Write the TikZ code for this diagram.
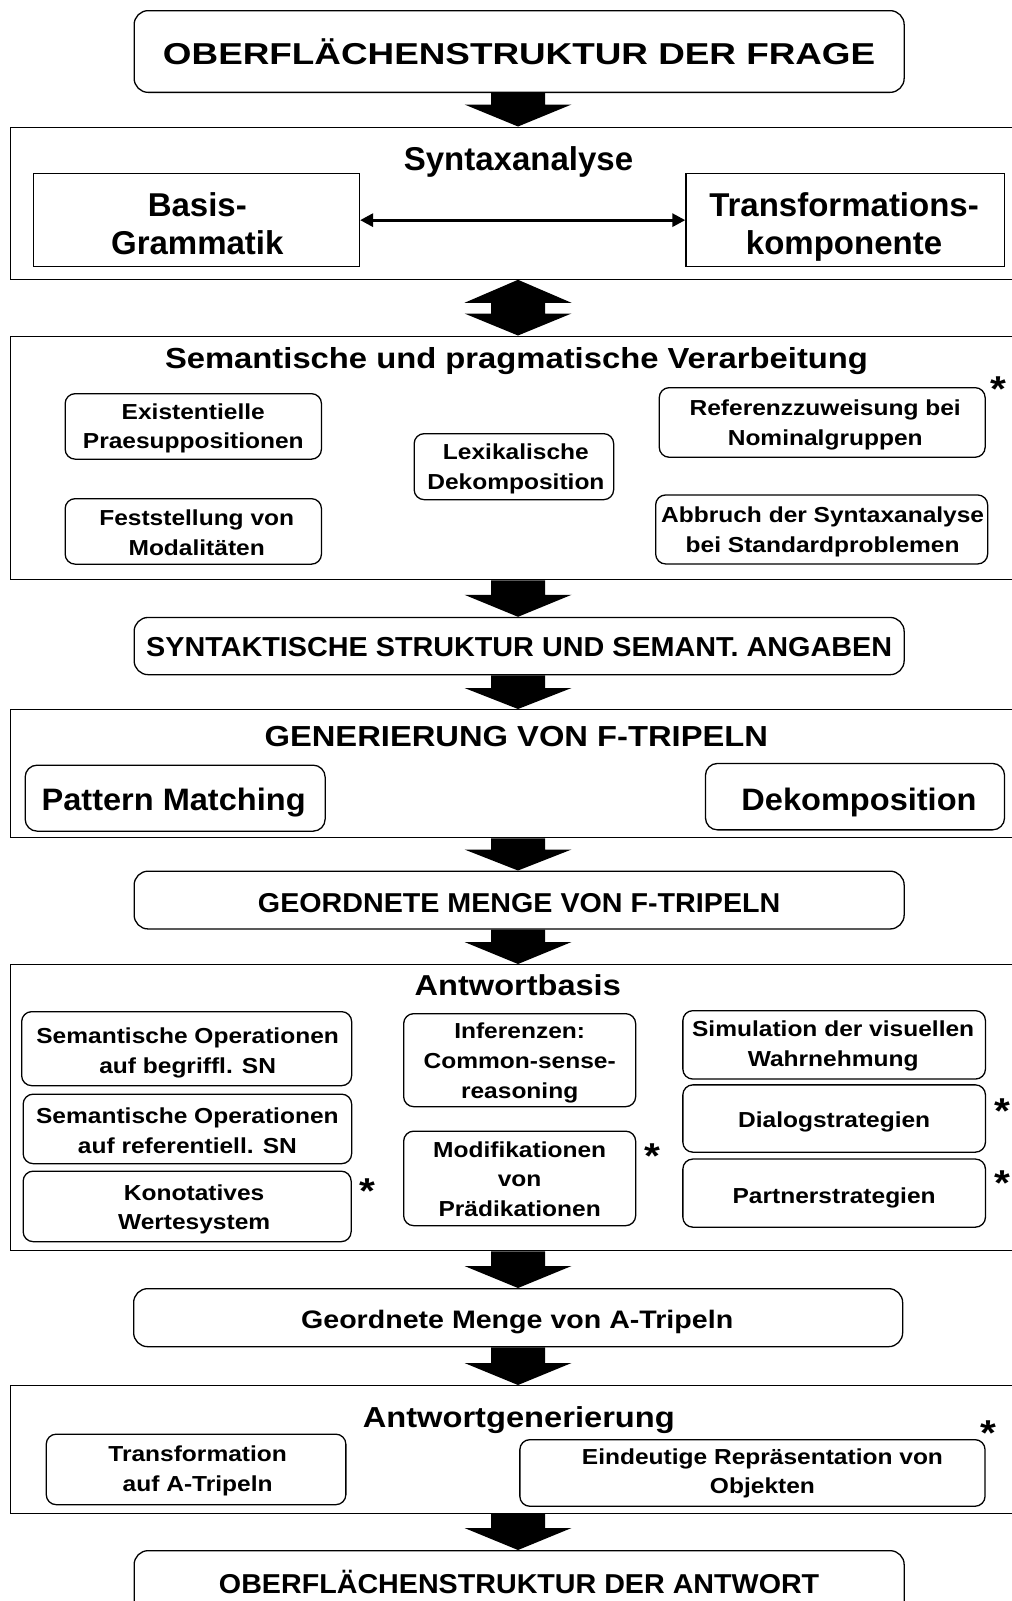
\documentclass[tikz,border=0pt]{standalone}
\usepackage{fontspec}
\setmainfont{Liberation Sans}
\newfontfamily\fA{Liberation Sans}
\newfontfamily\fB{Liberation Sans}[FakeStretch=1.05]
\newfontfamily\fC{Liberation Sans}[FakeStretch=1.13]
\newfontfamily\fD{Liberation Sans}[FakeStretch=1.22]
\usetikzlibrary{arrows.meta,calc}

% centred block of lines: size, line distance, lines separated by \\
\newcommand\txtlines[3]{{\fontsize{#1}{#2}\selectfont
  \setbox\strutbox\hbox{\vrule height\dimexpr.5\baselineskip+.358em\relax
    depth\dimexpr.5\baselineskip-.358em\relax width0pt}%
  \begin{tabular}{@{}c@{}}#3\end{tabular}}}
\newcommand\sm[1]{\txtlines{21.7}{29.6}{#1}}
% move a node's text right by #1 and down by #2 inside its frame
\newcommand\nudge[3]{\raisebox{-#2}[\height][\depth]{\kern#1\kern#1#3}}
% broad block arrow from the first point down to the second, head length #3
\newcommand\fatarrow[3]{%
  \fill let \p1=(#1), \p2=(#2) in
    (\x1-27pt,\y1) -- (\x1+27pt,\y1) -- (\x1+27pt,\y2+#3) -- (\x1+53.5pt,\y2+#3)
    -- (\x1,\y2) -- (\x1-53.5pt,\y2+#3) -- (\x1-27pt,\y2+#3) -- cycle;}

\tikzset{
  outerbox/.style={draw, line width=1.3pt, inner sep=0pt, anchor=north west},
  plainbox/.style={draw, line width=1.3pt, inner sep=0pt, anchor=north west, font=\fA\bfseries},
  mainbox/.style={draw, line width=1.3pt, rounded corners=14pt, inner sep=0pt, anchor=north west},
  smallbox/.style={draw, line width=1.3pt, rounded corners=10pt, inner sep=0pt, anchor=north west, font=\fC\bfseries},
  heading/.style={inner sep=0pt, anchor=center},
  star/.style={inner sep=0pt, anchor=base, font=\fC\bfseries\fontsize{36}{40}\selectfont},
}

\begin{document}
\begin{tikzpicture}[x=1pt,y=-1pt]
\path[use as bounding box] (0,0) rectangle (1012,1601);
\clip (0,0) rectangle (1012,1601);
\fill[white] (0,0) rectangle (1012,1601);
\coordinate (axis) at (518,0);

% section frames
\node[outerbox, minimum width=1020pt, minimum height=152pt]   (O1) at (9.7,126.5) {};
\node[outerbox, minimum width=1020pt, minimum height=243.5pt] (O2) at (9.7,335.5) {};
\node[outerbox, minimum width=1020pt, minimum height=128pt]   (O3) at (9.7,709) {};
\node[outerbox, minimum width=1020pt, minimum height=286pt]   (O4) at (9.7,964) {};
\node[outerbox, minimum width=1020pt, minimum height=127.7pt] (O5) at (9.7,1385) {};

% main chain
\node[mainbox, font=\fD\bfseries, minimum width=770pt, minimum height=81.7pt] (T0) at (133.5,10)
  {\nudge{0pt}{2pt}{\txtlines{30.2}{39}{OBERFLÄCHENSTRUKTUR DER FRAGE}}};
\node[mainbox, font=\fB\bfseries, minimum width=770pt, minimum height=57.2pt] (S1) at (133.5,616.8)
  {\nudge{0pt}{1pt}{\txtlines{27.4}{36}{SYNTAKTISCHE STRUKTUR UND SEMANT. ANGABEN}}};
\node[mainbox, font=\fB\bfseries, minimum width=770pt, minimum height=57.8pt] (F1) at (133.5,870.5)
  {\nudge{0pt}{3pt}{\txtlines{27.3}{36}{GEORDNETE MENGE VON F-TRIPELN}}};
\node[mainbox, font=\fC\bfseries, minimum width=769pt, minimum height=58pt] (A0) at (133,1288)
  {\nudge{-1pt}{2pt}{\txtlines{25.3}{33}{Geordnete Menge von A-Tripeln}}};
\node[mainbox, font=\fB\bfseries, minimum width=770pt, minimum height=66pt] (T9) at (133.5,1550)
  {\txtlines{27.3}{36}{OBERFLÄCHENSTRUKTUR DER ANTWORT}};

% Syntaxanalyse
\node[heading, font=\fA\bfseries] (h1) at (518.5,158.5) {\txtlines{33}{43}{Syntaxanalyse}};
\node[plainbox, minimum width=326.3pt, minimum height=93pt] (B1) at (32.5,173)
  {\nudge{1pt}{3.3pt}{\txtlines{33}{37.7}{Basis-\\Grammatik}}};
\node[plainbox, minimum width=318.2pt, minimum height=93pt] (B2) at (685.3,173)
  {\nudge{-1pt}{3.3pt}{\txtlines{33}{37.7}{Transformations-\\komponente}}};
\draw[line width=3pt, {Triangle[length=13pt,width=13pt]}-{Triangle[length=13pt,width=13pt]}]
  (B1.east) -- (B2.west);

% Semantische und pragmatische Verarbeitung
\node[heading, font=\fC\bfseries] (h2) at (516.5,358) {\txtlines{29}{38}{Semantische und pragmatische Verarbeitung}};
\node[smallbox, minimum width=256.3pt, minimum height=65.5pt] (E1) at (64.5,393)
  {\sm{Existentielle\\Praesuppositionen}};
\node[smallbox, minimum width=256.3pt, minimum height=65.5pt] (E2) at (64.5,498)
  {\nudge{3.4pt}{1.3pt}{\sm{Feststellung von\\Modalitäten}}};
\node[smallbox, minimum width=199.5pt, minimum height=66pt] (E3) at (413.5,433)
  {\nudge{2pt}{0pt}{\sm{Lexikalische\\Dekomposition}}};
\node[smallbox, minimum width=325.9pt, minimum height=69.6pt] (E4) at (658.6,387)
  {\nudge{3pt}{0pt}{\sm{Referenzzuweisung bei\\Nominalgruppen}}};
\node[smallbox, minimum width=332pt, minimum height=69pt] (E5) at (655,494.3)
  {\nudge{1pt}{0pt}{\sm{Abbruch der Syntaxanalyse\\bei Standardproblemen}}};
\node[star] (s1) at (998.3,401.5) {*};

% Generierung von F-Tripeln
\node[heading, font=\fC\bfseries] (h3) at (516.3,736.2) {\txtlines{28.95}{38}{GENERIERUNG VON F-TRIPELN}};
\node[smallbox, rounded corners=12pt, font=\fB\bfseries, minimum width=300pt, minimum height=66pt] (P1) at (24.5,764.5)
  {\nudge{-1.5pt}{1pt}{\txtlines{31}{40}{Pattern Matching}}};
\node[smallbox, rounded corners=12pt, font=\fB\bfseries, minimum width=299.1pt, minimum height=66.4pt] (P2) at (704.8,762.8)
  {\nudge{4pt}{2.6pt}{\txtlines{31}{40}{Dekomposition}}};

% Antwortbasis
\node[heading, font=\fC\bfseries] (h4) at (517.8,985.5) {\txtlines{28.8}{38}{Antwortbasis}};
\node[smallbox, minimum width=330pt, minimum height=74pt] (A1) at (21,1011)
  {\nudge{1pt}{2pt}{\sm{Semantische Operationen\\auf begriffl. SN}}};
\node[smallbox, minimum width=328.5pt, minimum height=69.5pt] (A2) at (22.5,1093.5)
  {\nudge{0pt}{1.6pt}{\sm{Semantische Operationen\\auf referentiell. SN}}};
\node[smallbox, minimum width=328pt, minimum height=70.5pt] (A3) at (22.5,1170.5)
  {\nudge{7pt}{0.7pt}{\sm{Konotatives\\Wertesystem}}};
\node[smallbox, minimum width=232pt, minimum height=93pt] (A4) at (403,1013)
  {\nudge{0pt}{0.5pt}{\sm{Inferenzen:\\Common-sense-\\reasoning}}};
\node[smallbox, minimum width=232pt, minimum height=94.5pt] (A5) at (403,1130.5)
  {\nudge{0pt}{0.7pt}{\sm{Modifikationen\\von\\Prädikationen}}};
\node[smallbox, minimum width=302.6pt, minimum height=68.4pt] (A6) at (682.2,1010)
  {\nudge{-1pt}{-1pt}{\sm{Simulation der visuellen\\Wahrnehmung}}};
\node[smallbox, minimum width=302.6pt, minimum height=67.3pt] (A7) at (682.2,1084.2)
  {\nudge{0pt}{1.4pt}{\sm{Dialogstrategien}}};
\node[smallbox, minimum width=302.6pt, minimum height=68.1pt] (A8) at (682.2,1158.4)
  {\nudge{0pt}{2.3pt}{\sm{Partnerstrategien}}};
\node[star] (s2) at (367,1203) {*};
\node[star] (s3) at (652,1168) {*};
\node[star] (s4) at (1002,1123) {*};
\node[star] (s5) at (1002,1195.5) {*};

% Antwortgenerierung
\node[heading, font=\fC\bfseries] (h5) at (518.8,1416.7) {\txtlines{28.9}{38}{Antwortgenerierung}};
\node[smallbox, minimum width=299.6pt, minimum height=70.5pt] (G1) at (45.6,1433.5)
  {\nudge{1.6pt}{-0.7pt}{\sm{Transformation\\auf A-Tripeln}}};
\node[smallbox, minimum width=465.2pt, minimum height=66.6pt] (G2) at (519.2,1439)
  {\nudge{10pt}{-1.8pt}{\sm{Eindeutige Repräsentation von\\Objekten}}};
\node[star] (s6) at (988,1445) {*};

% block arrows between the stages
\fatarrow{T0.south -| axis}{O1.north -| axis}{22pt}
\fill let \p1=(O1.south -| axis), \p2=(O2.north -| axis) in
  (\x1,\y1) -- (\x1+53.5pt,\y1-23pt) -- (\x1+27pt,\y1-23pt) -- (\x1+27pt,\y2+22pt)
  -- (\x1+53.5pt,\y2+22pt) -- (\x1,\y2) -- (\x1-53.5pt,\y2+22pt) -- (\x1-27pt,\y2+22pt)
  -- (\x1-27pt,\y1-23pt) -- (\x1-53.5pt,\y1-23pt) -- cycle;
\fatarrow{O2.south -| axis}{S1.north -| axis}{22pt}
\fatarrow{S1.south -| axis}{O3.north -| axis}{21pt}
\fatarrow{O3.south -| axis}{F1.north -| axis}{21pt}
\fatarrow{F1.south -| axis}{O4.north -| axis}{22pt}
\fatarrow{O4.south -| axis}{A0.north -| axis}{22pt}
\fatarrow{A0.south -| axis}{O5.north -| axis}{22pt}
\fatarrow{O5.south -| axis}{T9.north -| axis}{22pt}
\end{tikzpicture}
\end{document}
